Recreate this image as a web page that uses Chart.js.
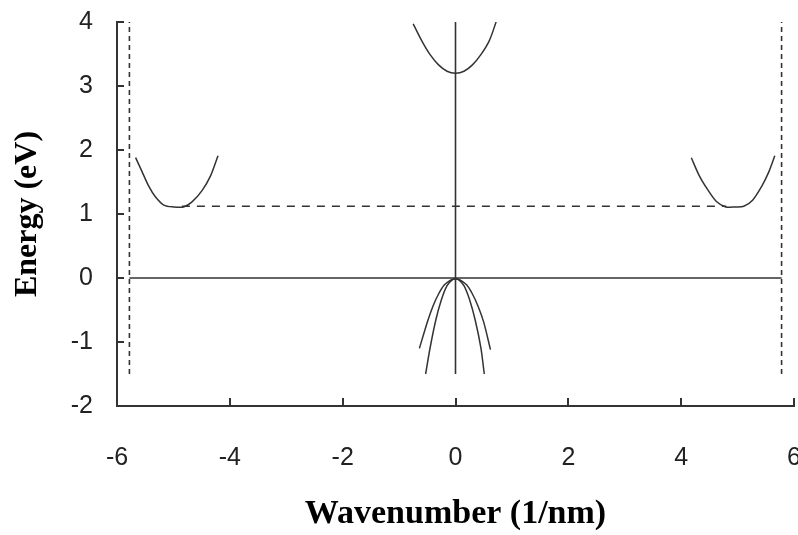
<!DOCTYPE html>
<html>
<head>
<meta charset="utf-8">
<script src="https://cdn.jsdelivr.net/npm/chart.js@4.4.1/dist/chart.umd.min.js"></script>
<style>
  html, body { margin: 0; padding: 0; background: #fff; }
  #wrap { width: 798px; height: 535px; position: relative; }
</style>
</head>
<body>
<div id="wrap"><canvas id="bandChart"></canvas></div>
<script>
// ==========================
// DATA
// ==========================
const xTicks = [-6, -4, -2, 0, 2, 4, 6];
const yTicks = [-2, -1, 0, 1, 2, 3, 4];

// heavy hole (outer valence)
const hhK = [-0.64, -0.5, -0.4, -0.3, -0.2, -0.1, -0.04, 0.04, 0.1, 0.2, 0.3, 0.4, 0.5, 0.62];
const hhE = [-1.10, -0.69, -0.44, -0.25, -0.11, -0.04, -0.02, -0.02, -0.04, -0.11, -0.25, -0.44, -0.69, -1.12];

// light hole (inner valence)
const lhK = [-0.53, -0.45, -0.35, -0.25, -0.15, -0.06, 0, 0.06, 0.15, 0.25, 0.35, 0.45, 0.51];
const lhE = [-1.50, -1.09, -0.66, -0.34, -0.12, -0.03, -0.01, -0.03, -0.12, -0.34, -0.66, -1.09, -1.50];

// conduction band at gamma
const gcK = [-0.75, -0.6, -0.45, -0.3, -0.15, 0, 0.15, 0.3, 0.45, 0.6, 0.72];
const gcE = [3.97, 3.71, 3.49, 3.33, 3.23, 3.2, 3.23, 3.33, 3.49, 3.71, 4.0];

// conduction valleys near X
const xlK = [-5.67, -5.56, -5.44, -5.32, -5.17, -5.0, -4.82, -4.67, -4.49, -4.34, -4.21];
const xlE = [1.88, 1.67, 1.44, 1.27, 1.14, 1.11, 1.11, 1.19, 1.37, 1.6, 1.91];
const xrK = [4.18, 4.32, 4.47, 4.62, 4.79, 4.95, 5.11, 5.27, 5.42, 5.55, 5.66];
const xrE = [1.88, 1.6, 1.38, 1.2, 1.11, 1.11, 1.12, 1.22, 1.42, 1.65, 1.91];

// reference lines
const zoneEdge = 5.78;          // dashed verticals at +/- edge
const edgeE = [-1.5, 4];
const gapE = 1.12;              // dashed gap line
const gapK = [-4.85, 4.8];
const zeroK = [-5.78, 5.78];    // solid E = 0 line
const gammaE = [-1.5, 4];       // solid k = 0 line

// ==========================
// HELPER
// ==========================
function pts(ks, es) {
  return ks.map((k, i) => ({ x: k, y: es[i] }));
}

const INK = "#333";

function curve(data) {
  return {
    data: data,
    showLine: true,
    borderColor: INK,
    borderWidth: 1.5,
    pointRadius: 0,
    tension: 0.3,
    fill: false
  };
}

function straight(data, dash) {
  return {
    data: data,
    showLine: true,
    borderColor: INK,
    borderWidth: 1.6,
    borderDash: dash || [],
    pointRadius: 0,
    tension: 0,
    fill: false
  };
}

// ==========================
// INWARD TICK MARKS
// ==========================
const inwardTicks = {
  id: "inwardTicks",
  afterDraw(chart) {
    const { ctx, chartArea, scales } = chart;
    ctx.save();
    ctx.strokeStyle = INK;
    ctx.lineWidth = 2;
    ctx.beginPath();
    xTicks.forEach(v => {
      const px = Math.round(scales.x.getPixelForValue(v));
      ctx.moveTo(px, chartArea.bottom);
      ctx.lineTo(px, chartArea.bottom - 8);
    });
    yTicks.forEach(v => {
      const py = Math.round(scales.y.getPixelForValue(v));
      ctx.moveTo(chartArea.left, py);
      ctx.lineTo(chartArea.left + 7, py);
    });
    ctx.stroke();
    ctx.restore();
  }
};

// ==========================
// CHART
// ==========================
const ctx = document.getElementById("bandChart");

new Chart(ctx, {
  type: "scatter",
  data: {
    datasets: [
      straight(pts(zeroK, [0, 0])),
      straight(pts([0, 0], gammaE)),
      straight(pts([-zoneEdge, -zoneEdge], edgeE), [5, 4]),
      straight(pts([zoneEdge, zoneEdge], edgeE), [5, 4]),
      straight(pts(gapK, [gapE, gapE]), [8, 7]),
      curve(pts(hhK, hhE)),
      curve(pts(lhK, lhE)),
      curve(pts(gcK, gcE)),
      curve(pts(xlK, xlE)),
      curve(pts(xrK, xrE))
    ]
  },
  options: {
    responsive: true,
    maintainAspectRatio: false,
    animation: false,
    layout: { padding: { left: 0, right: 4, top: 22, bottom: 0 } },
    plugins: {
      legend: { display: false },
      tooltip: { enabled: false }
    },
    scales: {
      x: {
        type: "linear",
        min: -6,
        max: 6,
        afterBuildTicks: s => { s.ticks = xTicks.map(v => ({ value: v })); },
        afterFit: s => { s.height = 129; s.paddingLeft = 0; s.paddingRight = 0; },
        grid: { display: true, drawOnChartArea: false, drawTicks: false },
        border: { display: true, color: INK, width: 2 },
        ticks: {
          padding: 37,
          color: "#222",
          font: { family: "'Liberation Sans', Arial, sans-serif", size: 25 }
        },
        title: {
          display: true,
          text: "Wavenumber (1/nm)",
          color: "#000",
          padding: { top: 0, bottom: 0 },
          font: { family: "'Liberation Serif', 'Times New Roman', serif", size: 34, weight: "bold" }
        }
      },
      y: {
        type: "linear",
        min: -2,
        max: 4,
        afterBuildTicks: s => { s.ticks = yTicks.map(v => ({ value: v })); },
        afterFit: s => { s.width = 117; s.paddingTop = 0; s.paddingBottom = 0; },
        grid: { display: true, drawOnChartArea: false, drawTicks: false },
        border: { display: true, color: INK, width: 2 },
        ticks: {
          padding: 24,
          color: "#222",
          font: { family: "'Liberation Sans', Arial, sans-serif", size: 25 }
        },
        title: {
          display: true,
          text: "Energy (eV)",
          color: "#000",
          padding: { top: 9, bottom: 0 },
          font: { family: "'Liberation Serif', 'Times New Roman', serif", size: 32, weight: "bold" }
        }
      }
    }
  },
  plugins: [inwardTicks]
});
</script>
</body>
</html>
